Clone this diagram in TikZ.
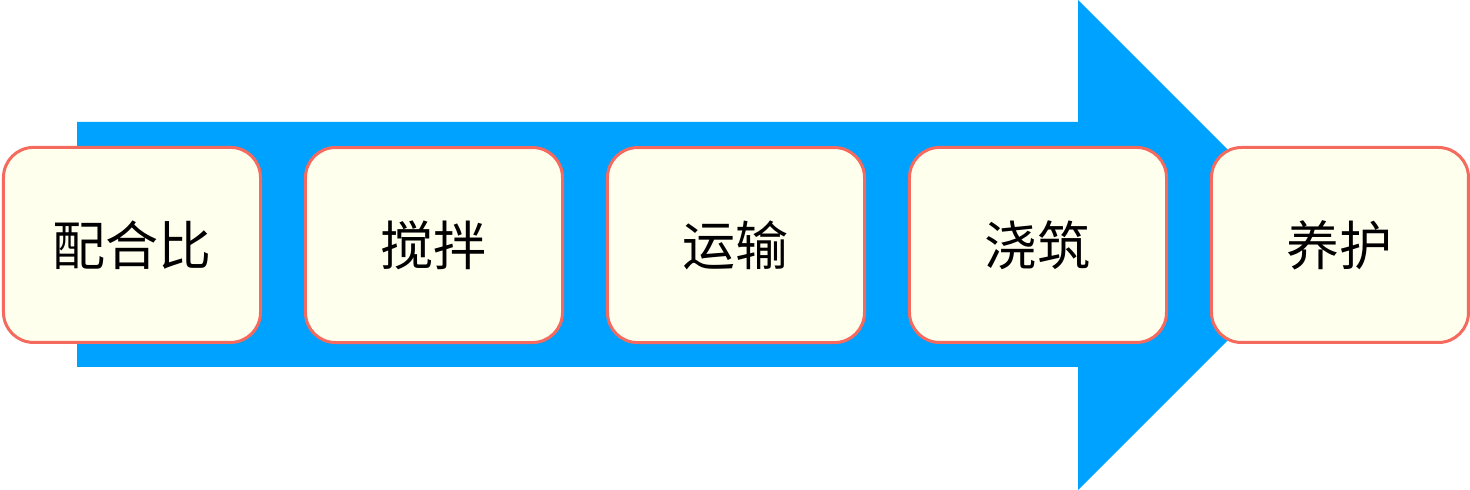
\documentclass[tikz,border=0pt]{standalone}
\usepackage{fontspec}
\newfontfamily\cjk{Noto Sans CJK SC}
\usetikzlibrary{matrix}
\definecolor{flowblue}{HTML}{00A2FF}
\definecolor{stepfill}{HTML}{FFFFEE}
\definecolor{stepline}{HTML}{F46A5E}

\begin{document}
\begin{tikzpicture} [x = 1pt, y = 1pt]
\useasboundingbox (0,0) rectangle (1470,490);
\fill[flowblue] (77,123) -- (77,368) -- (1078,368) -- (1078,490) -- (1323,245) -- (1078,0) -- (1078,123) -- cycle;
\matrix (m) at (736,245) [matrix of nodes, column sep = 42pt,
  nodes = {draw = stepline, line width = 3pt, fill = stepfill, rounded corners = 30pt,
  minimum width = 257pt, minimum height = 195pt, inner sep = 0pt,
  font = \cjk\fontsize{53}{60}\selectfont}]{
\node(s1){配合比}; & \node(s2){搅拌}; & \node(s3){运输}; & \node(s4){浇筑}; & \node(s5){养护}; \\
};
\end{tikzpicture}
\end{document}
